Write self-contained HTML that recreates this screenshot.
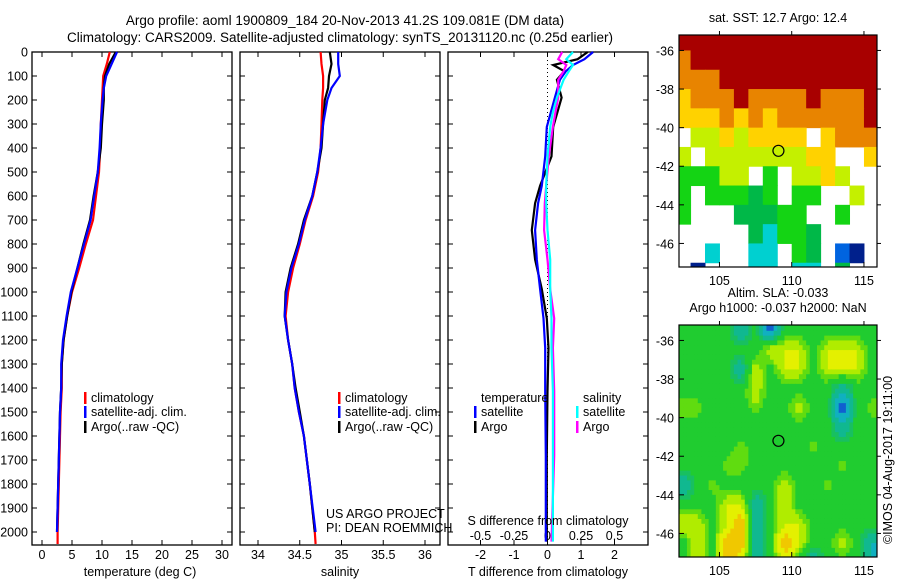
<!DOCTYPE html>
<html><head><meta charset="utf-8"><style>
html,body{margin:0;padding:0;background:#fff;}
svg{display:block;font-family:"Liberation Sans",sans-serif;}
text{font-size:12.5px;fill:#000;}
</style></head><body>
<svg id="c" width="900" height="580" viewBox="0 0 900 580" xmlns="http://www.w3.org/2000/svg">
<text x="345" y="25" text-anchor="middle" style="font-size:13.5px">Argo profile: aoml 1900809_184 20-Nov-2013 41.2S 109.081E (DM data)</text>
<text x="340" y="42" text-anchor="middle" style="font-size:13.5px">Climatology: CARS2009. Satellite-adjusted climatology: synTS_20131120.nc (0.25d earlier)</text>
<g id="g"></g>
</svg>
<script>
// depth levels (m)
const depths = [0,50,100,150,200,300,400,500,600,700,800,900,1000,1100,1200,1300,1400,1500,1600,1800,2000,2050];
// temperature profiles (deg C)
const tClim = [11.3,10.8,10.2,10.1,10.0,9.8,9.7,9.5,9.0,8.5,7.3,6.2,5.0,4.2,3.6,3.3,3.3,3.1,3.0,2.8,2.6,2.6];
const tSat  = [12.5,11.6,10.7,10.3,10.1,9.8,9.6,9.3,8.7,8.1,7.0,5.9,4.8,4.1,3.5,3.2,3.2,3.0,2.9,2.7,2.5];
const tArgo = [12.3,11.2,10.5,10.3,10.3,10.0,9.8,9.3,8.6,8.0,6.9,5.9,4.9,4.2,3.6,3.3,3.2,3.0,2.9,2.7,2.5];
// salinity profiles
const sClim = [34.75,34.76,34.78,34.78,34.77,34.76,34.75,34.72,34.66,34.57,34.50,34.42,34.36,34.33,34.36,34.41,34.44,34.49,34.55,34.62,34.68,34.69];
const sSat  = [34.96,34.96,34.98,34.88,34.83,34.78,34.75,34.71,34.65,34.56,34.49,34.40,34.34,34.32,34.36,34.41,34.44,34.49,34.55,34.62,34.69];
const sArgo = [34.86,34.88,34.85,34.84,34.80,34.78,34.76,34.71,34.65,34.55,34.48,34.39,34.33,34.32,34.36,34.41,34.45,34.50,34.55,34.62,34.68];
// differences from climatology
const dDepths = [0,30,54,80,116,190,250,312,435,557,630,742,865,988,1110,1233,1413,1680,2040];
const dTSat  = [1.36,1.1,0.76,0.55,0.37,0.22,0.1,-0.02,-0.07,-0.17,-0.28,-0.37,-0.32,-0.22,-0.12,-0.07,-0.07,-0.05,-0.05];
const dTArgo = [1.2,0.9,0.17,0.5,0.28,0.42,0.3,0.17,0.12,-0.22,-0.37,-0.47,-0.37,-0.17,-0.02,0.03,0.0,-0.02,-0.02];
const dSSat  = [0.19,0.14,0.19,0.16,0.12,0.07,0.04,0.02,0.0,-0.01,-0.01,0.0,0.02,0.02,0.03,0.03,0.04,0.04,0.04];
const dSArgo = [0.11,0.08,0.14,0.12,0.08,0.08,0.06,0.04,0.01,-0.01,-0.02,-0.025,0.0,0.02,0.05,0.04,0.05,0.05,0.03];
// tick labels
const depthTicks = [0,100,200,300,400,500,600,700,800,900,1000,1100,1200,1300,1400,1500,1600,1700,1800,1900,2000];
const tTicks = [0,5,10,15,20,25,30];
const sTicks = [34,34.5,35,35.5,36];
const dtTicks = [-2,-1,0,1,2];
const dsTicks = [-0.5,-0.25,0,0.25,0.5];
const latTicks = [-36,-38,-40,-42,-44,-46];
const lonTicks = [105,110,115];
// SST grid (deg C), rows lat -35..-47 step 1, cols lon 102..115
const sstRows = [
[16,16,16,16,16,16,16,16,16,16,16,16,16,16],
[14.5,16,16,16,16,16,16,16,16,16,16,16,16,16],
[14.5,14.5,14.5,16,16,16,16,16,16,16,16,16,16,16],
[13.5,14.5,14.5,14.5,16,14.5,14.5,14.5,14.5,16,14.5,14.5,14.5,16],
[13.5,13.5,13.5,14.5,13.5,14.5,13.5,14.5,14.5,14.5,14.5,14.5,14.5,16],
[null,12.7,12.7,13.5,12.7,13.5,13.5,13.5,13.5,null,13.5,14.5,14.5,14.5],
[12.7,null,12.7,12.7,12.7,12.7,12.7,12.7,12.7,13.5,13.5,null,null,13.5],
[11.5,11.5,11.5,12.7,12.7,null,11.5,null,12.7,12.7,13.5,12.7,null,null],
[11.5,null,11.5,11.5,11.5,10.8,11.5,null,11.5,11.5,null,null,12.7,null],
[11.5,null,null,null,10.8,10.8,10.8,11.5,11.5,null,null,11.5,null,null],
[null,null,null,null,null,10.8,9.5,11.5,11.5,10.8,null,null,null,null],
[null,null,9.5,null,null,9.5,9.5,null,11.5,10.8,null,8,7,null],
[null,7,null,null,null,9.5,9.5,null,9.5,9.5,null,10.8,null,null]];
// SLA grid (relative), same layout
const slaRows = [
[0,0,0,0,-1,0,-2,0,0,0,0,0,0,0],
[0,0,0,0,0,0,1,1,1,0,1,1,1,0],
[0,0,0,0,-1,1,0,1,1,0,1,1,1,0],
[0,0,0,0,0,1,0,0,0,0,0,-1,0,0],
[0.5,0.5,0,0,0,0.5,0,0,1,0,0,-2,0,0.5],
[0,0,0,0,0,0,0,0,0,0,0,-1,0,0],
[0,0,0,0,0.5,0,0,0,0,0.5,0,0,0,0],
[0,0,0,0.5,0.5,0,0,0,0,0,0,0.5,0,0],
[-1,0,0.5,0,0,0,0,1,0,0,0.5,0,0,0],
[0,0,0,1,1,-1,0,1,0,0,0,0,0,0],
[1,1,0,1,2,-1,0,1,1,0,0,0,0,0],
[0,1,0,2,2,-1,0,2,1,0,0,1,0,-1],
[0,1,0,2,1,-1,0,1,0,-1,0,0,0,-1]];
const argoLon = 109.081, argoLat = -41.2;

const NS="http://www.w3.org/2000/svg";
const G=document.getElementById('g');
function mk(tag,attrs,parent){const e=document.createElementNS(NS,tag);for(const k in attrs)e.setAttribute(k,attrs[k]);(parent||G).appendChild(e);return e;}
function txt(x,y,s,anchor,parent){const t=mk('text',{x:x,y:y,'text-anchor':anchor||'start'},parent);t.textContent=s;return t;}

const TOP=52, BOT=545;
const yD = d => TOP + d*0.24;
const xT = v => 42 + v*6;
const xS = v => 258 + (v-34)*83.5;
const xDT = v => 547.5 + v*33.5;
const xDS = v => 547.5 + v*134;

function panel(x0,name){
  const p=mk('rect',{x:x0,y:TOP,width:200,height:BOT-TOP,fill:'none',stroke:'#000','stroke-width':1.3});
  
  
  depthTicks.forEach(d=>{mk('line',{x1:x0,x2:x0+5,y1:yD(d),y2:yD(d),stroke:'#000'});mk('line',{x1:x0+200,x2:x0+195,y1:yD(d),y2:yD(d),stroke:'#000'});});
}
function xticks(vals,f,labY){vals.forEach(v=>{const x=f(v);mk('line',{x1:x,x2:x,y1:TOP,y2:TOP+5,stroke:'#000'});mk('line',{x1:x,x2:x,y1:BOT,y2:BOT-5,stroke:'#000'});if(labY){const t=txt(x,labY,String(v),'middle');}});}
function line(xs,ds,f,col,name){
  let pts=[];for(let i=0;i<xs.length;i++){pts.push(f(xs[i]).toFixed(1)+','+yD(ds[i]).toFixed(1));}
  const l=mk('polyline',{points:pts.join(' '),fill:'none',stroke:col,'stroke-width':2.2,'stroke-linejoin':'miter'});
  
  
}
panel(32,'temperature-panel');panel(240,'salinity-panel');panel(448,'difference-panel');
depthTicks.forEach(d=>{const t=txt(28,yD(d)+4.5,String(d),'end');});
xticks(tTicks,xT,559);
xticks(sTicks,xS,559);
xticks(dtTicks,xDT,559);
dsTicks.forEach(v=>{const t=txt(xDS(v),540,String(v),'middle');});
mk('line',{x1:xDT(0),x2:xDT(0),y1:TOP,y2:BOT,stroke:'#000','stroke-dasharray':'1,3'});
line(tClim,depths,xT,'#ff0000','temp-climatology-line');
line(tArgo,depths,xT,'#000','temp-argo-line');
line(tSat,depths,xT,'#0000ff','temp-satellite-line');
line(sClim,depths,xS,'#ff0000','sal-climatology-line');
line(sArgo,depths,xS,'#000','sal-argo-line');
line(sSat,depths,xS,'#0000ff','sal-satellite-line');
line(dTArgo,dDepths,xDT,'#000','tdiff-argo-line');
line(dTSat,dDepths,xDT,'#0000ff','tdiff-satellite-line');
line(dSArgo,dDepths,xDS,'#ff00ff','sdiff-argo-line');
line(dSSat,dDepths,xDS,'#00ffff','sdiff-satellite-line');
function leg(x,y,col,s){mk('rect',{x:x,y:y-10,width:2.5,height:12,fill:col});const t=txt(x+7,y,s);}
[[32+52],[240+98]].forEach(([x])=>{leg(x,402,'#ff0000','climatology');leg(x,416,'#0000ff','satellite-adj. clim.');leg(x,431,'#000','Argo(..raw -QC)');});
txt(481,402,'temperature');leg(474,416,'#0000ff','satellite');leg(474,431,'#000','Argo');
txt(583,402,'salinity');leg(576,416,'#00ffff','satellite');leg(576,431,'#ff00ff','Argo');
txt(326,518,'US ARGO PROJECT');txt(326,532,'PI: DEAN ROEMMICH');
txt(548,525,'S difference from climatology','middle');
txt(140,576,'temperature (deg C)','middle');
txt(340,576,'salinity','middle');
txt(548,576,'T difference from climatology','middle');

const MX0=679,MX1=877;
const mx = lon => MX0 + (lon-102.2)*14.45;
function drawMap(y0,rows,colorFn,name,titles,smooth){
  const my = lat => y0 + (-35.2-lat)*19.3;
  const cp=mk('clipPath',{id:'cp'+y0});mk('rect',{x:MX0,y:y0,width:MX1-MX0,height:232},cp);
  const gg=mk('g',{'clip-path':'url(#cp'+y0+')'});
  
  
  if(!smooth){
    rows.forEach((r,i)=>r.forEach((v,j)=>{const c=colorFn(v);if(!c)return;mk('rect',{x:mx(102+j),y:my(-35-i),width:14.95,height:19.8,fill:c},gg);}));
  } else {
    const n=4, R=rows.length, C=rows[0].length;
    const val=(i,j)=>rows[Math.max(0,Math.min(R-1,i))][Math.max(0,Math.min(C-1,j))];
    for(let a=0;a<R*n;a++){for(let b=0;b<C*n;b++){
      const fi=(a+0.5)/n-0.5, fj=(b+0.5)/n-0.5;
      const i0=Math.floor(fi), j0=Math.floor(fj), ti=fi-i0, tj=fj-j0;
      const v=(val(i0,j0)*(1-tj)+val(i0,j0+1)*tj)*(1-ti)+(val(i0+1,j0)*(1-tj)+val(i0+1,j0+1)*tj)*ti;
      mk('rect',{x:mx(102+b/n),y:my(-35-a/n),width:14.45/n+0.4,height:19.3/n+0.4,fill:colorFn(v)},gg);
    }}
  }
  mk('rect',{x:MX0,y:y0,width:MX1-MX0,height:232,fill:'none',stroke:'#000','stroke-width':1.2});
  latTicks.forEach(l=>{const y=my(l);mk('line',{x1:MX0,x2:MX0+5,y1:y,y2:y,stroke:'#000'});mk('line',{x1:MX1,x2:MX1+4,y1:y,y2:y,stroke:'#000'});const t=txt(MX0-5,y+5,String(l),'end');});
  lonTicks.forEach(l=>{const x=mx(l);mk('line',{x1:x,x2:x,y1:y0,y2:y0-4,stroke:'#000'});mk('line',{x1:x,x2:x,y1:y0+232,y2:y0+227,stroke:'#000'});const t=txt(x,y0+250,String(l),'middle');});
  const c=mk('circle',{cx:mx(argoLon),cy:my(argoLat),r:5.5,fill:'none',stroke:'#000','stroke-width':1.2});
  
  
  titles.forEach((s,k)=>txt(778,y0-13-(titles.length-1-k)*15,s,'middle'));
}
function sstColor(v){if(v===null)return null;if(v>=15.5)return '#a80000';if(v>=14)return '#e88400';if(v>=13.2)return '#ffd200';if(v>=12.3)return '#c4f000';if(v>=11.2)return '#14d414';if(v>=10.5)return '#00b848';if(v>=9)return '#00d0d0';if(v>=7.5)return '#0064e0';return '#00208c';}
function slaColor(v){if(v<=-1.5)return '#1060d0';if(v<=-1.0)return '#10b0c0';if(v<=-0.5)return '#10b890';if(v<=-0.2)return '#18c060';if(v<0.3)return '#20cc30';if(v<0.6)return '#60dc10';if(v<1.0)return '#b0ec00';if(v<1.5)return '#e4f000';return '#f0c800';}
drawMap(35,sstRows,sstColor,'sst-map',['sat. SST: 12.7 Argo: 12.4'],false);
drawMap(325,slaRows,slaColor,'sla-map',['Altim. SLA: -0.033','Argo h1000: -0.037 h2000: NaN'],true);
const r=txt(0,0,'©IMOS 04-Aug-2017 19:11:00','middle');
r.setAttribute('transform','translate(892,460) rotate(-90)');


</script>
</body></html>
